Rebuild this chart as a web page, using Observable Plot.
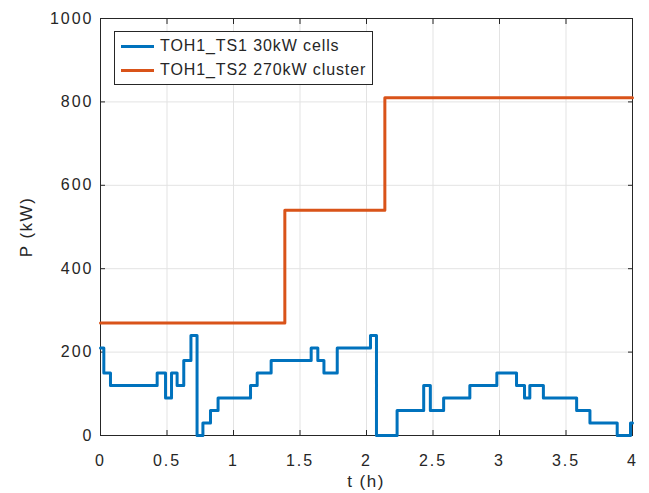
<!DOCTYPE html>
<html>
<head>
<meta charset="utf-8">
<script src="https://cdn.jsdelivr.net/npm/d3@7"></script>
<script src="https://cdn.jsdelivr.net/npm/@observablehq/plot@0.6"></script>
<style>
  body { margin: 0; background: #fff; font-family: "Liberation Sans", Arial, sans-serif; }
  #wrap { position: relative; width: 649px; height: 493px; }
  #legend { position: absolute; left: 114px; top: 31px; width: 259px; height: 54px; box-sizing: border-box;
    border: 1px solid #262626; background: #fff; font-size: 16px; letter-spacing: 0.9px; color: #262626; }
  .item { position: absolute; left: 6px; display: flex; align-items: center; height: 20px; }
  .swatch { width: 33px; height: 3px; margin-right: 6px; }
</style>
</head>
<body>
<div id="wrap"></div>
<script>
const series = ["TOH1_TS1 30kW cells", "TOH1_TS2 270kW cluster"];
const colors = ["#0072BD", "#D95319"];
const ts1Time = [0, 0.025, 0.075, 0.426, 0.489, 0.534, 0.576, 0.626, 0.68, 0.726, 0.77, 0.827, 0.884, 1.128, 1.178, 1.283, 1.584, 1.634, 1.68, 1.78, 2.03, 2.075, 2.23, 2.43, 2.48, 2.58, 2.777, 2.98, 3.128, 3.188, 3.228, 3.33, 3.58, 3.68, 3.885, 3.985, 4.0];
const ts1Power = [210, 150, 120, 150, 90, 150, 120, 180, 240, 0, 30, 60, 90, 120, 150, 180, 210, 180, 150, 210, 240, 0, 60, 120, 60, 90, 120, 150, 120, 90, 120, 90, 60, 30, 0, 30, 30];
const ts2Time = [0, 1.386, 2.138, 4.0];
const ts2Power = [270, 540, 810, 810];
const xTicks = [0, 0.5, 1, 1.5, 2, 2.5, 3, 3.5, 4];
const xTickLabels = ["0", "0.5", "1", "1.5", "2", "2.5", "3", "3.5", "4"];
const yTicks = [0, 200, 400, 600, 800, 1000];
const yTickLabels = ["0", "200", "400", "600", "800", "1000"];

const d1 = ts1Time.map((t, i) => ({t, p: ts1Power[i]}));
const d2 = ts2Time.map((t, i) => ({t, p: ts2Power[i]}));

const chart = Plot.plot({
  width: 649, height: 493,
  marginLeft: 100, marginRight: 17, marginTop: 18, marginBottom: 58,
  style: {fontFamily: "'Liberation Sans', Arial, sans-serif", fontSize: "16px", color: "#262626", background: "#fff"},
  x: {domain: [0, 4]},
  y: {domain: [0, 1000]},
  marks: [
    Plot.gridX(xTicks, {stroke: "#e3e3e3", strokeOpacity: 1}),
    Plot.gridY(yTicks, {stroke: "#e3e3e3", strokeOpacity: 1}),
    Plot.frame({stroke: "#262626", strokeWidth: 1}),
    Plot.axisX(xTicks, {anchor: "bottom", tickSize: -5, tickPadding: 24, tickFormat: (d, i) => xTickLabels[i], label: null, fontSize: 16}),
    Plot.axisX(xTicks, {anchor: "top", tickSize: -5, tickFormat: () => "", label: null}),
    Plot.axisY(yTicks, {anchor: "left", tickSize: -5, tickPadding: 12, tickFormat: (d, i) => yTickLabels[i], label: null, fontSize: 16}),
    Plot.axisY(yTicks, {anchor: "right", tickSize: -5, tickFormat: () => "", label: null}),
    Plot.lineY(d2, {x: "t", y: "p", curve: "step-after", stroke: colors[1], strokeWidth: 3}),
    Plot.lineY(d1, {x: "t", y: "p", curve: "step-after", stroke: colors[0], strokeWidth: 3})
  ]
});
const wrap = document.getElementById("wrap");
wrap.appendChild(chart);

const svg = d3.select(chart);
svg.selectAll("[aria-label='x-axis tick label'] text, [aria-label='y-axis tick label'] text")
  .style("letter-spacing", "2px");

// axis titles
svg.append("text").attr("x", 366).attr("y", 487).attr("text-anchor", "middle")
  .attr("font-size", 17).style("letter-spacing", "1.5px").attr("fill", "#262626").text("t (h)");
svg.append("text").attr("transform", "translate(32,227) rotate(-90)").attr("text-anchor", "middle")
  .attr("font-size", 17).style("letter-spacing", "1.5px").attr("fill", "#262626").text("P (kW)");

// legend
const leg = document.createElement("div");
leg.id = "legend";
series.forEach((s, i) => {
  const it = document.createElement("div");
  it.className = "item";
  it.style.top = (i === 0 ? 4 : 28) + "px";
  it.innerHTML = `<span class="swatch" style="background:${colors[i]}"></span><span>${s}</span>`;
  leg.appendChild(it);
});
wrap.appendChild(leg);
</script>
</body>
</html>
